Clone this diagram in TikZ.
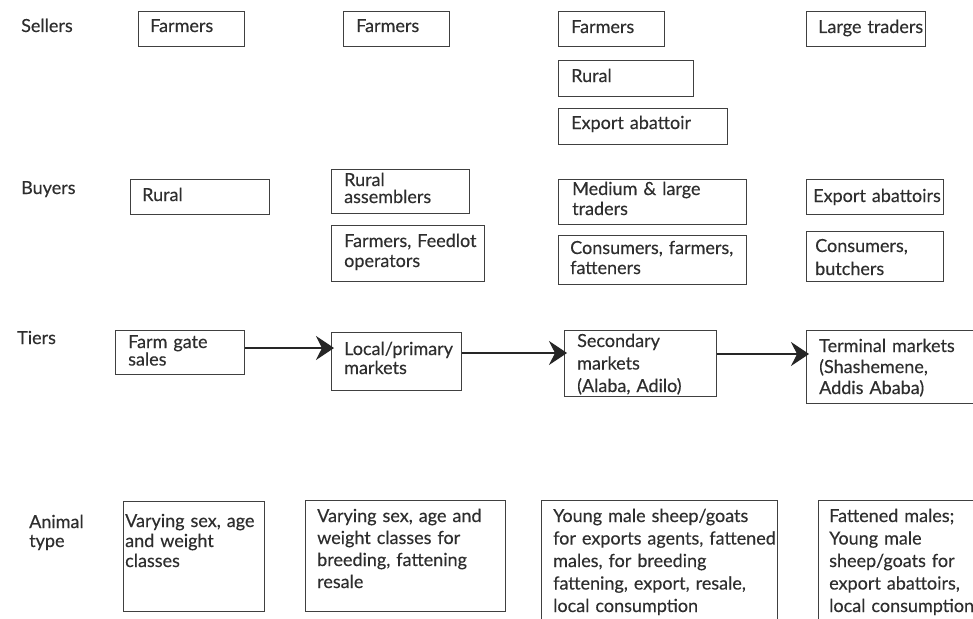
\documentclass[tikz,border=0pt]{standalone}
\usepackage{fontspec}
\setmainfont[FakeBold=0.3]{Lato}
\usetikzlibrary{arrows.meta,calc}

\tikzset{
  box/.style={draw=black!75, line width=1.3pt, inner sep=0pt, anchor=north west},
  txt/.style={inner sep=0pt, anchor=base west, text=black!82, align=left,
    text width=300pt, font=\fontsize{18}{#1}\selectfont},
  txt/.default=20,
  arr/.style={draw=black!85, line width=1.2pt, shorten >=-3pt,
    -{Stealth[length=18pt,width=24pt,inset=6pt]}}
}

\begin{document}
\begin{tikzpicture}[x=1pt,y=-1pt]
  \useasboundingbox (0,0) rectangle (973,618);
  \clip (0,0) rectangle (973,618);

  % row labels
  \node[txt] (lsell) at (21,32) {Sellers};
  \node[txt] (lbuy) at (21,194) {Buyers};
  \node[txt] (ltier) at (17,344) {Tiers};
  \node[txt=19] (lanim) at (29,528) {Animal\\type};

  % sellers
  \node[box, minimum width=106, minimum height=35] (s1) at (138,11) {};
  \node[txt] (s1t) at (150,32) {Farmers};
  \node[box, minimum width=106, minimum height=35] (s2) at (343,11) {};
  \node[txt] (s2t) at (356,32) {Farmers};
  \node[box, minimum width=106, minimum height=35] (s3) at (558,11) {};
  \node[txt] (s3t) at (571,33) {Farmers};
  \node[box, minimum width=135, minimum height=36] (s3b) at (558,60) {};
  \node[txt] (s3bt) at (571,82) {Rural};
  \node[box, minimum width=169, minimum height=36] (s3c) at (558,108) {};
  \node[txt] (s3ct) at (571,129) {Export abattoir};
  \node[box, minimum width=119, minimum height=35] (s4) at (806,11) {};
  \node[txt] (s4t) at (818,33) {Large traders};

  % buyers
  \node[box, minimum width=139, minimum height=35] (b1) at (130,179) {};
  \node[txt] (b1t) at (142,201) {Rural};
  \node[box, minimum width=138, minimum height=44] (b2) at (331,169) {};
  \node[txt=17] (b2t) at (344,186) {Rural\\assemblers};
  \node[box, minimum width=153, minimum height=56] (b2b) at (331,225) {};
  \node[txt=20] (b2bt) at (344,247) {Farmers, Feedlot\\operators};
  \node[box, minimum width=188, minimum height=45] (b3) at (558,179) {};
  \node[txt=20] (b3t) at (572,195) {Medium \& large\\traders};
  \node[box, minimum width=188, minimum height=49] (b3b) at (558,235) {};
  \node[txt=20] (b3bt) at (570,254) {Consumers, farmers,\\fatteners};
  \node[box, minimum width=137, minimum height=35] (b4) at (806,179) {};
  \node[txt] (b4t) at (813,202) {Export abattoirs};
  \node[box, minimum width=137, minimum height=50] (b4b) at (806,231) {};
  \node[txt=23] (b4bt) at (815,252) {Consumers,\\butchers};

  % tiers
  \node[box, minimum width=129, minimum height=44] (fg) at (115,330) {};
  \node[txt=14] (fgt) at (128,348) {Farm gate\\sales};
  \node[box, minimum width=130, minimum height=58] (lp) at (331,332) {};
  \node[txt=19] (lpt) at (344,355) {Local/primary\\markets};
  \node[box, minimum width=152, minimum height=66] (sm) at (564,330) {};
  \node[txt=22.5] (smt) at (577,347) {Secondary\\markets\\(Alaba, Adilo)};
  \node[box, minimum width=190, minimum height=73] (tm) at (806,330) {};
  \node[txt=21] (tmt) at (819,352) {Terminal markets\\(Shashemene,\\Addis Ababa)};

  % flow between tiers
  \draw[arr] (fg.east |- 0,348) -- (lp.west |- 0,348);
  \draw[arr] (lp.east |- 0,353) -- (sm.west |- 0,353);
  \draw[arr] (sm.east |- 0,354) -- (tm.west |- 0,354);

  % animal types
  \node[box, minimum width=141, minimum height=110] (a1) at (123,501) {};
  \node[txt=20] (a1t) at (125,527) {Varying sex, age\\and weight\\classes};
  \node[box, minimum width=200, minimum height=111] (a2) at (305,500) {};
  \node[txt=22] (a2t) at (317,522) {Varying sex, age and\\weight classes for\\breeding, fattening\\resale};
  \node[box, minimum width=236, minimum height=130] (a3) at (541,500) {};
  \node[txt=22.5] (a3t) at (553,522) {Young male sheep/goats\\for exports agents, fattened\\males, for breeding\\fattening, export, resale,\\local consumption};
  \node[box, minimum width=200, minimum height=130] (a4) at (818,500) {};
  \node[txt=22.5] (a4t) at (829,522) {Fattened males;\\Young male\\sheep/goats for\\export abattoirs,\\local consumption};
\end{tikzpicture}
\end{document}
